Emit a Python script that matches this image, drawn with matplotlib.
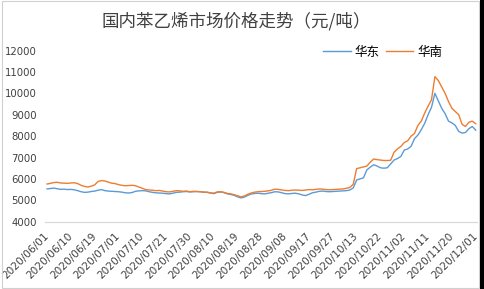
import matplotlib
matplotlib.use("Agg")
import matplotlib.pyplot as plt
from matplotlib.patches import Rectangle

plt.rcParams['font.family'] = ['Noto Sans CJK SC', 'DejaVu Sans']

# ---------------------------------------------------------------
# Datos, un punto por dia habil
# ---------------------------------------------------------------
tick_labels = ['2020/06/01', '2020/06/10', '2020/06/19', '2020/07/01', '2020/07/10',
               '2020/07/21', '2020/07/30', '2020/08/10', '2020/08/19', '2020/08/28',
               '2020/09/08', '2020/09/17', '2020/09/27', '2020/10/13', '2020/10/22',
               '2020/11/02', '2020/11/11', '2020/11/20', '2020/12/01']
tick_step = 7

huadong = [5530, 5550, 5570, 5540, 5510, 5520, 5500, 5510, 5490, 5450,
           5400, 5370, 5380, 5410, 5430, 5470, 5500, 5450, 5430, 5420,
           5410, 5400, 5380, 5350, 5340, 5360, 5420, 5440, 5450, 5440,
           5400, 5370, 5350, 5340, 5330, 5310, 5300, 5330, 5370, 5380,
           5400, 5410, 5390, 5400, 5410, 5400, 5380, 5370, 5340, 5310,
           5370, 5390, 5360, 5300, 5270, 5230, 5160, 5110, 5150, 5230,
           5290, 5320, 5330, 5310, 5300, 5330, 5360, 5400, 5390, 5350,
           5310, 5300, 5320, 5330, 5300, 5250, 5220, 5280, 5350, 5380,
           5420, 5430, 5410, 5400, 5410, 5420, 5430, 5440, 5450, 5480,
           5580, 5950, 6000, 6050, 6420, 6550, 6660, 6600, 6520, 6500,
           6520, 6700, 6880, 6950, 7050, 7350, 7400, 7520, 7880, 8050,
           8300, 8600, 9000, 9350, 10000, 9650, 9300, 9050, 8700, 8620,
           8500, 8220, 8140, 8170, 8350, 8450, 8280]

huanan = [5760, 5790, 5830, 5840, 5810, 5800, 5790, 5810, 5820, 5780,
          5700, 5650, 5620, 5660, 5720, 5880, 5920, 5900, 5850, 5800,
          5780, 5730, 5700, 5680, 5690, 5700, 5680, 5620, 5560, 5500,
          5480, 5470, 5450, 5460, 5430, 5400, 5390, 5420, 5450, 5440,
          5420, 5430, 5400, 5420, 5410, 5400, 5380, 5380, 5350, 5330,
          5390, 5400, 5370, 5320, 5300, 5260, 5210, 5160, 5200, 5280,
          5340, 5380, 5400, 5410, 5420, 5440, 5470, 5520, 5510, 5480,
          5460, 5450, 5470, 5480, 5470, 5460, 5480, 5500, 5490, 5510,
          5530, 5520, 5500, 5490, 5500, 5510, 5520, 5530, 5560, 5600,
          5750, 6480, 6520, 6560, 6600, 6780, 6930, 6900, 6880, 6860,
          6860, 6870, 7250, 7400, 7520, 7700, 7780, 8000, 8120, 8500,
          8700, 9080, 9400, 9700, 10780, 10600, 10300, 10000, 9620, 9300,
          9150, 9000, 8550, 8450, 8650, 8700, 8580]

y_ticks = [4000, 5000, 6000, 7000, 8000, 9000, 10000, 11000, 12000]

# ---------------------------------------------------------------
# Figura
# ---------------------------------------------------------------
fig = plt.figure(figsize=(4.84, 2.89), dpi=100)
ax = fig.add_axes([0.093, 0.233, 0.892, 0.592])

xs = list(range(len(huadong)))
ax.plot(xs, huadong, color='#5B9BD5', linewidth=1.0, label='华东')
ax.plot(xs, huanan, color='#ED7D31', linewidth=1.0, label='华南')

ax.set_ylim(4000, 12000)
ax.set_xlim(-0.6, len(xs) - 0.7)
ax.set_yticks(y_ticks)
ax.set_yticklabels([str(v) for v in y_ticks], family='DejaVu Sans', fontsize=7.3, color='#404040')

pos = [i * tick_step for i in range(len(tick_labels))]
ax.set_xticks(pos)
ax.set_xticklabels(tick_labels, rotation=45, ha='right', va='center', rotation_mode='anchor',
                   family='DejaVu Sans', fontsize=7.6, color='#404040')
ax.tick_params(axis='both', length=0)
ax.tick_params(axis='x', pad=9)
ax.tick_params(axis='y', pad=6)

for s in ['top', 'right', 'left']:
    ax.spines[s].set_visible(False)
ax.spines['bottom'].set_color('#d9d9d9')
ax.spines['bottom'].set_linewidth(0.9)

fig.text(0.488, 0.925, '国内苯乙烯市场价格走势（元/吨）', ha='center', va='center',
         fontsize=12.6, color='#404040')

ax.legend(loc='center right', bbox_to_anchor=(0.92, 0.99), ncol=2, frameon=False,
          fontsize=9, handlelength=2.2, handletextpad=0.3, columnspacing=0.5,
          borderaxespad=0, borderpad=0)

# borde de la imagen
fig.patches.append(Rectangle((0.004, 0.004), 0.985, 0.992, transform=fig.transFigure,
                             fill=False, edgecolor='#d0d0d0', linewidth=0.8))
fig.patches.append(Rectangle((0.991, 0), 0.009, 1, transform=fig.transFigure,
                             facecolor='black', edgecolor='none'))

fig.savefig('out.png', dpi=100)
